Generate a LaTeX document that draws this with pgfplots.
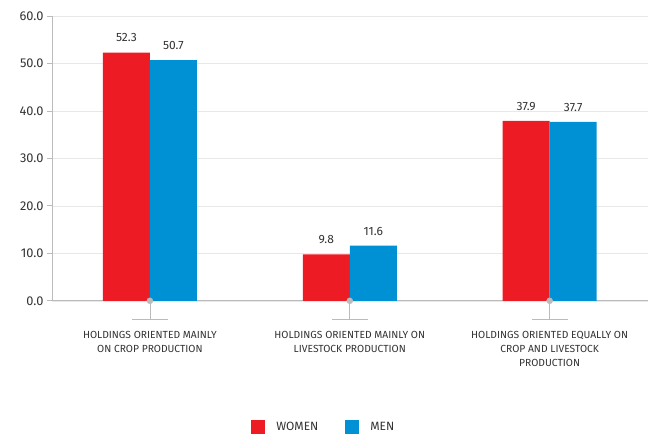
\documentclass[border=0pt]{standalone}
\usepackage{pgfplots}
\pgfplotsset{compat=1.18}
\usepackage{fontspec}
\setmainfont{Fira Sans}
\definecolor{cred}{HTML}{ED1C24}
\definecolor{cblue}{HTML}{0091D5}
\definecolor{axgray}{HTML}{BBBBBB}
\definecolor{gridgray}{HTML}{E8E8E8}
\definecolor{txt}{HTML}{333333}
\begin{document}
\begin{tikzpicture}
\begin{axis}[
  name=ax,
  scale only axis,
  width=596bp, height=285bp,
  xmin=-0.49, xmax=2.49,
  ymin=0, ymax=60,
  ytick={0,10,...,60},
  /pgf/number format/assume math mode=true,
  yticklabel style={/pgf/number format/fixed,/pgf/number format/fixed zerofill,/pgf/number format/precision=1,font=\fontsize{12.8bp}{14bp}\selectfont,text=txt},
  xtick={0,1,2},
  xticklabels={{HOLDINGS ORIENTED MAINLY\\ON CROP PRODUCTION},{HOLDINGS ORIENTED MAINLY ON\\LIVESTOCK PRODUCTION},{HOLDINGS ORIENTED EQUALLY ON\\CROP AND LIVESTOCK\\PRODUCTION}},
  xticklabel style={align=center,font=\fontsize{10.3bp}{14bp}\selectfont,text=txt,yshift=-22bp},
  axis x line*=bottom,
  axis y line*=left,
  axis line style={axgray,line width=0.8bp},
  x tick style={draw=none},
  y tick style={axgray,line width=0.8bp},
  tick align=outside,
  major tick length=5bp,
  ymajorgrids,
  grid style={gridgray,line width=0.6bp},
  ybar=0pt,
  bar width=47bp,
  nodes near coords,
  nodes near coords style={/pgf/number format/fixed,/pgf/number format/fixed zerofill,/pgf/number format/precision=1,font=\fontsize{12bp}{13bp}\selectfont,text=txt,yshift=7bp},
  legend columns=2,
  legend style={at={(0.4564,-0.442)},anchor=center,draw=none,font=\fontsize{12bp}{13bp}\selectfont,text=txt,
    /tikz/every odd column/.append style={column sep=9bp},
    /tikz/every even column/.append style={column sep=25bp}},
  legend image code/.code={\fill[#1] (0bp,-7bp) rectangle (14bp,7bp);},
  clip=false,
]
\addplot[fill=cred,draw=none] coordinates {(0,52.3) (1,9.8) (2,37.9)};
\addplot[fill=cblue,draw=none] coordinates {(0,50.7) (1,11.6) (2,37.7)};
\legend{WOMEN,MEN}
\pgfplotsinvokeforeach{0,1,2}{
  \draw[axgray,line width=0.8bp] (axis cs:#1,0) -- ([yshift=-19bp]axis cs:#1,0);
  \draw[axgray,line width=0.8bp] ([xshift=-18bp,yshift=-19bp]axis cs:#1,0) -- ([xshift=18bp,yshift=-19bp]axis cs:#1,0);
}
\addplot[ybar=0pt,bar shift=0pt,forget plot,only marks,mark=*,mark size=3bp,mark options={fill=axgray,draw=axgray},nodes near coords=] coordinates {(0,0) (1,0) (2,0)};
\end{axis}
\path ([xshift=-52bp,yshift=-132bp]ax.south west) rectangle ([xshift=596bp,yshift=301bp]ax.south west);
\end{tikzpicture}
\end{document}
